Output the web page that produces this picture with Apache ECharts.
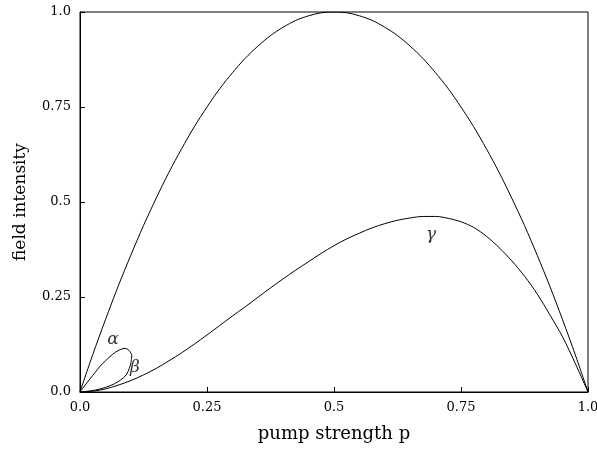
<!DOCTYPE html>
<html>
<head>
<meta charset="utf-8">
<script src="https://cdn.jsdelivr.net/npm/echarts@6/dist/echarts.min.js"></script>
<style>
  html, body { margin: 0; padding: 0; background: #fff; }
  #chart { width: 597px; height: 450px; }
</style>
</head>
<body>
<div id="chart"></div>
<script>
// pump strength p (x) and field intensity values
var pOuter = [0, 0.025, 0.05, 0.075, 0.1, 0.125, 0.15, 0.175, 0.2, 0.225, 0.25, 0.275, 0.3, 0.325, 0.35, 0.375, 0.4, 0.425, 0.45, 0.475,
  0.5, 0.525, 0.55, 0.575, 0.6, 0.625, 0.65, 0.675, 0.7, 0.725, 0.75, 0.775, 0.8, 0.825, 0.85, 0.875, 0.9, 0.925, 0.95, 0.975, 1.0]
var outerCurve = [0, 0.098, 0.19, 0.278, 0.36, 0.438, 0.51, 0.578, 0.64, 0.698, 0.75, 0.798, 0.84, 0.878, 0.91, 0.938, 0.96, 0.978, 0.99, 0.998,
  1.0, 0.998, 0.99, 0.978, 0.96, 0.938, 0.91, 0.878, 0.84, 0.798, 0.75, 0.698, 0.64, 0.578, 0.51, 0.438, 0.36, 0.278, 0.19, 0.098, 0]
var gammaCurve = [0, 0.002, 0.008, 0.018, 0.03, 0.045, 0.062, 0.082, 0.103, 0.126, 0.15, 0.175, 0.2, 0.224, 0.249, 0.274, 0.298, 0.321, 0.343, 0.365,
  0.385, 0.403, 0.418, 0.432, 0.443, 0.452, 0.458, 0.462, 0.462, 0.457, 0.448, 0.433, 0.41, 0.38, 0.345, 0.305, 0.258, 0.203, 0.145, 0.075, 0]

var pAlpha = [0, 0.01, 0.02, 0.03, 0.039, 0.05, 0.059, 0.07, 0.08, 0.089, 0.096, 0.1, 0.102, 0.101]
var alphaCurve = [0, 0.018, 0.035, 0.052, 0.067, 0.082, 0.093, 0.105, 0.112, 0.115, 0.11, 0.103, 0.095, 0.085]
var pBeta = [0.101, 0.1, 0.097, 0.092, 0.085, 0.075, 0.06, 0.045, 0.03, 0.015, 0]
var betaCurve = [0.085, 0.075, 0.062, 0.047, 0.037, 0.027, 0.017, 0.01, 0.005, 0.002, 0]

var tickLabels = ['0.0', '0.25', '0.5', '0.75', '1.0']
var curveNames = ['α', 'β', 'γ']
var namePos = [[0.065, 0.137], [0.108, 0.063], [0.691, 0.413]]

function pairs (xs, ys) {
  var out = []
  for (var i = 0; i < xs.length; i++) out.push([xs[i], ys[i]])
  return out
}

function tickText (v) {
  var i = Math.round(v / 0.25)
  return tickLabels[i] || ''
}

var serif = 'DejaVu Serif'
var lineStyle = { color: '#000', width: 1 }

var chart = echarts.init(document.getElementById('chart'))
chart.setOption({
  animation: false,
  backgroundColor: '#fff',
  grid: {
    left: 80, right: 9, top: 12, bottom: 58, containLabel: false, outerBoundsMode: 'none',
    show: true, borderColor: '#000', borderWidth: 1, backgroundColor: 'transparent'
  },
  xAxis: {
    type: 'value', min: 0, max: 1, interval: 0.25,
    name: 'pump strength p', nameLocation: 'middle', nameGap: 33,
    nameTextStyle: { fontFamily: serif, fontSize: 18, color: '#000' },
    axisLine: { lineStyle: { color: '#000' } },
    axisTick: { inside: true, length: 5, lineStyle: { color: '#000' } },
    axisLabel: { formatter: tickText, fontFamily: serif, fontSize: 13, color: '#000', margin: 9 },
    splitLine: { show: false }
  },
  yAxis: {
    type: 'value', min: 0, max: 1, interval: 0.25,
    name: 'field intensity', nameLocation: 'middle', nameGap: 51,
    nameTextStyle: { fontFamily: serif, fontSize: 17, color: '#000' },
    axisLine: { show: true, lineStyle: { color: '#000' } },
    axisTick: { show: true, inside: true, length: 5, lineStyle: { color: '#000' } },
    axisLabel: { formatter: tickText, fontFamily: serif, fontSize: 13, color: '#000', margin: 9 },
    splitLine: { show: false }
  },
  series: [
    { type: 'line', data: pairs(pOuter, outerCurve), smooth: 0.3, showSymbol: false, lineStyle: lineStyle },
    { type: 'line', data: pairs(pOuter, gammaCurve), smooth: 0.3, showSymbol: false, lineStyle: lineStyle },
    { type: 'line', data: pairs(pAlpha, alphaCurve), smooth: 0.3, showSymbol: false, lineStyle: lineStyle },
    { type: 'line', data: pairs(pBeta, betaCurve), smooth: 0.3, showSymbol: false, lineStyle: lineStyle },
    {
      type: 'scatter', symbolSize: 0,
      data: namePos.map(function (p, i) { return { value: p, name: curveNames[i] } }),
      label: {
        show: true, position: 'inside', formatter: '{b}',
        fontFamily: serif, fontStyle: 'italic', fontSize: 17, color: '#000'
      }
    }
  ]
})
</script>
</body>
</html>
